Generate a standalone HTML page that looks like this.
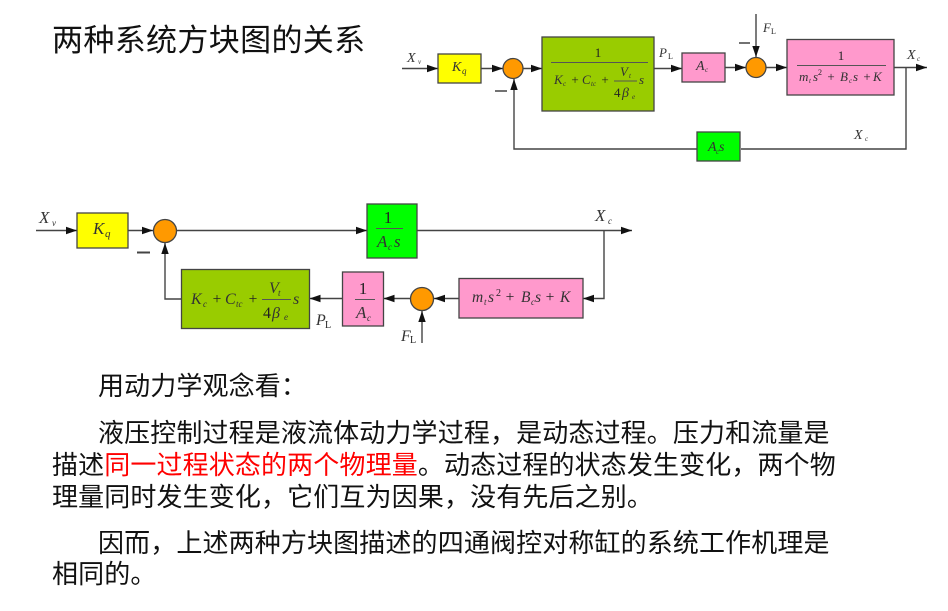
<!DOCTYPE html>
<html lang="zh">
<head>
<meta charset="utf-8">
<style>
html,body{margin:0;padding:0;background:#fff;width:948px;height:611px;overflow:hidden}
svg{display:block}
.cn{font-family:"WenQuanYi Zen Hei","Noto Sans CJK SC",sans-serif;fill:#111;font-size:26px;letter-spacing:.13px}
.m{font-family:"Liberation Serif",serif;fill:#333;font-style:italic}
.r{font-family:"Liberation Serif",serif;fill:#222}
.l{stroke:#444;stroke-width:1.4;fill:none}
.b{stroke:#444;stroke-width:1.3}
.o{fill:#ff9900;stroke:#444;stroke-width:1.3}
</style>
</head>
<body>
<svg width="948" height="611" viewBox="0 0 948 611" xmlns="http://www.w3.org/2000/svg">
<defs>
<marker id="a" markerUnits="userSpaceOnUse" markerWidth="12" markerHeight="8" refX="11" refY="4" orient="auto"><path d="M0 .3L11 4L0 7.700Z" fill="#111"/></marker>
</defs>

<text class="cn" x="52" y="51" style="font-size:31px;letter-spacing:.35px">两种系统方块图的关系</text>

<!-- top diagram -->
<g>
<path class="l" d="M402 68.500H438" marker-end="url(#a)"/>
<path class="l" d="M481 68.500H503" marker-end="url(#a)"/>
<path class="l" d="M523 68.500H542" marker-end="url(#a)"/>
<path class="l" d="M654 68.500H682" marker-end="url(#a)"/>
<path class="l" d="M725 67.500H746" marker-end="url(#a)"/>
<path class="l" d="M766 67.500H787" marker-end="url(#a)"/>
<path class="l" d="M894 67.500H927" marker-end="url(#a)"/>
<path class="l" d="M756 14V57" marker-end="url(#a)"/>
<path class="l" d="M906 67.500V149H741"/>
<path class="l" d="M697 149H514V79" marker-end="url(#a)"/>
<rect class="b" x="438" y="54" width="43" height="29" fill="#ffff00"/>
<circle class="o" cx="513" cy="68.500" r="10"/>
<rect class="b" x="542" y="37" width="112" height="74" fill="#99cc00"/>
<rect class="b" x="682" y="53" width="43" height="29" fill="#ff99cc"/>
<circle class="o" cx="756" cy="67.500" r="10"/>
<rect class="b" x="787" y="39.500" width="107" height="55.500" fill="#ff99cc"/>
<rect class="b" x="697" y="132" width="43" height="29" fill="#00ff00"/>

<path d="M495 91H507M739 43H750" stroke="#444" stroke-width="1.500"/>

<text class="m" x="407" y="62" font-size="14">X</text><text class="m" x="418" y="64" font-size="7">v</text>
<text class="m" x="452" y="71" font-size="14">K</text><text class="m" x="462" y="74" font-size="9">q</text>
<text class="m" x="659" y="57" font-size="13">P</text><text class="r" x="668" y="59" font-size="8">L</text>
<text class="m" x="696" y="70" font-size="14">A</text><text class="m" x="705" y="72" font-size="7">c</text>
<text class="m" x="763" y="32" font-size="13">F</text><text class="r" x="771" y="34" font-size="8">L</text>
<text class="m" x="907" y="59" font-size="14">X</text><text class="m" x="917" y="61" font-size="7">c</text>
<text class="m" x="854" y="139" font-size="14">X</text><text class="m" x="865" y="141" font-size="7">c</text>
<text class="m" x="708" y="151" font-size="14">A</text><text class="m" x="716" y="154" font-size="7">c</text><text class="m" x="719" y="151" font-size="14">s</text>

<text class="r" x="598" y="57" font-size="13" text-anchor="middle">1</text>
<path d="M551 62.500H648" stroke="#555" stroke-width="1"/>
<text class="m" x="554" y="84" font-size="13">K</text><text class="m" x="563" y="86" font-size="7">c</text>
<text class="r" x="575" y="84" font-size="13" text-anchor="middle">+</text>
<text class="m" x="582" y="84" font-size="13">C</text><text class="m" x="591" y="86" font-size="7">tc</text>
<text class="r" x="605" y="84" font-size="13" text-anchor="middle">+</text>
<text class="m" x="620" y="76" font-size="13">V</text><text class="m" x="629" y="78" font-size="7">t</text>
<path d="M614 81H637" stroke="#555" stroke-width="1"/>
<text class="r" x="614" y="97" font-size="13">4</text><text class="m" x="622" y="97" font-size="14">β</text><text class="m" x="632" y="99" font-size="7">e</text>
<text class="m" x="639" y="84" font-size="13">s</text>

<text class="r" x="841" y="60" font-size="13" text-anchor="middle">1</text>
<path d="M797 65.500H886" stroke="#555" stroke-width="1"/>
<text class="m" x="799" y="81" font-size="13">m</text><text class="m" x="809" y="83" font-size="7">t</text><text class="m" x="813" y="81" font-size="13">s</text><text class="r" x="818" y="75" font-size="8">2</text>
<text class="r" x="831" y="81" font-size="13" text-anchor="middle">+</text>
<text class="m" x="840" y="81" font-size="13">B</text><text class="m" x="849" y="83" font-size="7">c</text><text class="m" x="853" y="81" font-size="13">s</text>
<text class="r" x="867" y="81" font-size="13" text-anchor="middle">+</text>
<text class="m" x="873" y="81" font-size="13">K</text>
</g>

<!-- lower diagram -->
<g>
<path class="l" d="M36 230.500H77" marker-end="url(#a)"/>
<path class="l" d="M128 230.500H153" marker-end="url(#a)"/>
<path class="l" d="M177 230.500H367" marker-end="url(#a)"/>
<path class="l" d="M417 230.500H632" marker-end="url(#a)"/>
<path class="l" d="M604 230.500V298.500H583" marker-end="url(#a)"/>
<path class="l" d="M459 298.500H434" marker-end="url(#a)"/>
<path class="l" d="M410 298.500H383.500" marker-end="url(#a)"/>
<path class="l" d="M342 298.500H309.500" marker-end="url(#a)"/>
<path class="l" d="M181 299H165V243" marker-end="url(#a)"/>
<path class="l" d="M422 343V311" marker-end="url(#a)"/>
<rect class="b" x="77" y="213" width="51" height="35" fill="#ffff00"/>
<circle class="o" cx="165" cy="231" r="11.500"/>
<rect class="b" x="367" y="204" width="50" height="54" fill="#00ff00"/>
<rect class="b" x="459" y="278.500" width="124" height="39.500" fill="#ff99cc"/>
<circle class="o" cx="422" cy="299" r="11.500"/>
<rect class="b" x="342.500" y="272" width="41" height="54" fill="#ff99cc"/>
<rect class="b" x="181.500" y="269.500" width="128" height="59" fill="#99cc00"/>
<path d="M137 252.500H150" stroke="#444" stroke-width="2"/>

<text class="m" x="39" y="223" font-size="17">X</text><text class="m" x="52" y="226" font-size="9">v</text>
<text class="m" x="93" y="234" font-size="17">K</text><text class="m" x="105" y="237" font-size="11">q</text>
<text class="m" x="595" y="221" font-size="17">X</text><text class="m" x="608" y="224" font-size="9">c</text>
<text class="m" x="316" y="325" font-size="16">P</text><text class="r" x="325" y="328" font-size="10">L</text>
<text class="m" x="401" y="341" font-size="16">F</text><text class="r" x="410" y="343" font-size="10">L</text>

<text class="r" x="388" y="223" font-size="17" text-anchor="middle">1</text>
<path d="M376 228.500H403" stroke="#555" stroke-width="1"/>
<text class="m" x="377" y="247" font-size="17">A</text><text class="m" x="388" y="250" font-size="9">c</text><text class="m" x="394" y="247" font-size="17">s</text>

<text class="r" x="363" y="294" font-size="17" text-anchor="middle">1</text>
<path d="M355 299.500H375" stroke="#555" stroke-width="1"/>
<text class="m" x="356" y="318" font-size="17">A</text><text class="m" x="367" y="321" font-size="9">c</text>

<text class="m" x="472" y="302" font-size="15.500">m</text><text class="m" x="484" y="305" font-size="9">t</text><text class="m" x="488" y="302" font-size="15.500">s</text><text class="r" x="496" y="296" font-size="10">2</text>
<text class="r" x="510" y="302" font-size="15.500" text-anchor="middle">+</text>
<text class="m" x="521" y="302" font-size="15.500">B</text><text class="m" x="531" y="305" font-size="9">c</text><text class="m" x="535" y="302" font-size="15.500">s</text>
<text class="r" x="550" y="302" font-size="15.500" text-anchor="middle">+</text>
<text class="m" x="560" y="302" font-size="15.500">K</text>

<text class="m" x="191" y="304" font-size="16">K</text><text class="m" x="203" y="307" font-size="9">c</text>
<text class="r" x="217" y="304" font-size="15.500" text-anchor="middle">+</text>
<text class="m" x="225" y="304" font-size="16">C</text><text class="m" x="236" y="307" font-size="9">tc</text>
<text class="r" x="253" y="304" font-size="15.500" text-anchor="middle">+</text>
<text class="m" x="269" y="293" font-size="16">V</text><text class="m" x="278" y="296" font-size="9">t</text>
<path d="M262 299.500H291" stroke="#555" stroke-width="1"/>
<text class="r" x="263" y="318" font-size="16">4</text><text class="m" x="272" y="318" font-size="16">β</text><text class="m" x="284" y="320" font-size="9">e</text>
<text class="m" x="293" y="304" font-size="16">s</text>
</g>

<!-- body text -->
<text class="cn" x="98" y="395">用动力学观念看&#xFF1A;</text>
<text class="cn" x="98" y="442">液压控制过程是液流体动力学过程&#xFF0C;是动态过程。压力和流量是</text>
<text class="cn" x="52" y="474">描述<tspan fill="#ff0000">同一过程状态的两个物理量</tspan>。动态过程的状态发生变化&#xFF0C;两个物</text>
<text class="cn" x="52" y="506">理量同时发生变化&#xFF0C;它们互为因果&#xFF0C;没有先后之别。</text>
<text class="cn" x="98" y="552">因而&#xFF0C;上述两种方块图描述的四通阀控对称缸的系统工作机理是</text>
<text class="cn" x="52" y="583">相同的。</text>
</svg>
</body>
</html>
